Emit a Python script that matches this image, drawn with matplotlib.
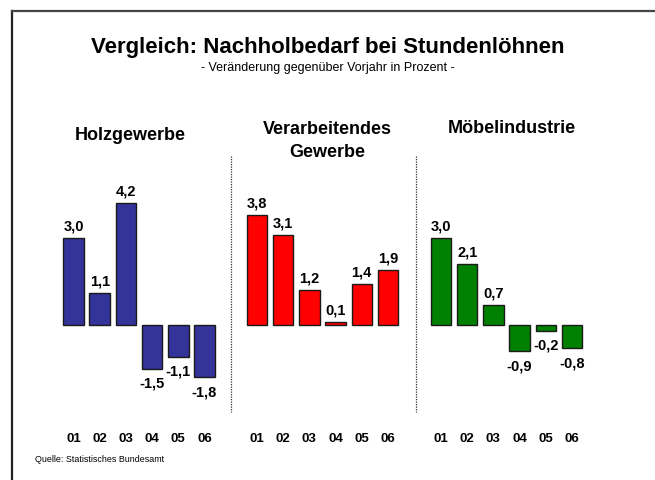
import matplotlib
matplotlib.use("Agg")
import matplotlib.pyplot as plt
from matplotlib.lines import Line2D

plt.rcParams['font.family'] = ['Liberation Sans', 'DejaVu Sans']

years = ["01", "02", "03", "04", "05", "06"]
panel_titles = ["Holzgewerbe", "Verarbeitendes\nGewerbe", "Möbelindustrie"]
holz = [3.0, 1.1, 4.2, -1.5, -1.1, -1.8]
verarb = [3.8, 3.1, 1.2, 0.1, 1.4, 1.9]
moebel = [3.0, 2.1, 0.7, -0.9, -0.2, -0.8]
series = [holz, verarb, moebel]
colors = ["#333399", "#FF0000", "#008000"]

title = "Vergleich: Nachholbedarf bei Stundenlöhnen"
subtitle = "- Veränderung gegenüber Vorjahr in Prozent -"
source = "Quelle: Statistisches Bundesamt"

W, H = 655, 481
fig = plt.figure(figsize=(W / 100, H / 100), dpi=100)

def fx(px):
    return px / W

def fy(py):
    return 1 - py / H

# frame
fig.add_artist(Line2D([fx(12), fx(12)], [fy(12), fy(481)], color="#222222", lw=1.6))
fig.add_artist(Line2D([fx(12), fx(655)], [fy(12), fy(12)], color="#444444", lw=1.6))

fig.text(fx(328), fy(47), title, ha="center", va="center", fontsize=16, fontweight="bold")
fig.text(fx(328), fy(68), subtitle, ha="center", va="center", fontsize=9)
fig.text(fx(35), fy(460), source, ha="left", va="center", fontsize=6.4)

# axes geometry (pixels)
unit = 29.0
zero_y = 326
ymin, ymax = -3.0, 5.5
ax_bottom = zero_y - ymin * unit  # pixel from top
ax_top = zero_y - ymax * unit
step = 26.2
lefts = [73.5 - step / 2, 257 - step / 2, 441 - step / 2]
title_pos = [(130, 135), (327, 141), (512, 129)]

for i in range(3):
    ax = fig.add_axes([fx(lefts[i]), fy(ax_bottom), fx(step * 6), (ax_bottom - ax_top) / H])
    vals = series[i]
    xs = list(range(len(years)))
    ax.bar(xs, vals, width=0.78, color=colors[i], edgecolor="#1a1a1a", linewidth=1.0)
    ax.set_xlim(-0.5, 5.5)
    ax.set_ylim(ymin, ymax)
    for x, v in zip(xs, vals):
        lab = f"{v:.1f}".replace(".", ",")
        if v >= 0:
            ax.annotate(lab, (x, v), xytext=(0, 4), textcoords="offset points",
                        ha="center", va="bottom", fontsize=10.5, fontweight="bold")
        else:
            ax.annotate(lab, (x, v), xytext=(0, -5), textcoords="offset points",
                        ha="center", va="top", fontsize=10.5, fontweight="bold")
    ax.set_xticks(xs)
    ax.set_xticklabels(years, fontsize=9.5, fontweight="bold")
    ax.tick_params(axis="x", length=0, pad=14.5)
    ax.set_yticks([])
    for s in ax.spines.values():
        s.set_visible(False)
    ax.patch.set_alpha(0)
    tx, ty = title_pos[i]
    fig.text(fx(tx), fy(ty), panel_titles[i], ha="center", va="center",
             fontsize=13, fontweight="bold", linespacing=1.4)

# dotted separators
for xp in [231, 416]:
    fig.add_artist(Line2D([fx(xp), fx(xp)], [fy(157), fy(413)], color="#333333",
                          lw=0.9, linestyle=(0, (1, 1))))

fig.savefig("out.png", dpi=100)
